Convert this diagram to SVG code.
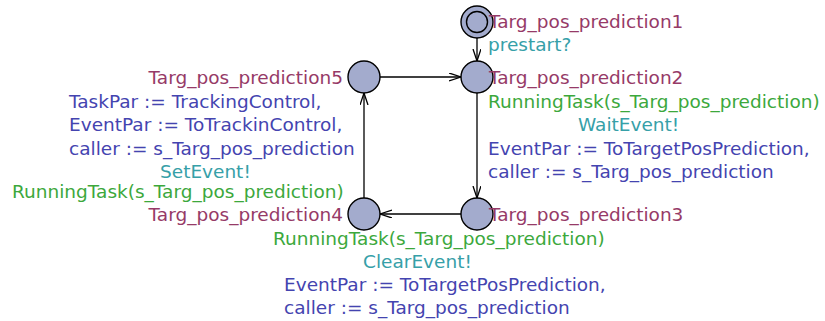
<svg xmlns="http://www.w3.org/2000/svg" width="825" height="321" viewBox="0 0 825 321">
<style>
text{font-family:"DejaVu Sans",sans-serif;font-size:18.5px}
.loc{fill:#963a67}
.syn{fill:#36a0a8}
.grd{fill:#3ca83c}
.asg{fill:#4444b0}
.node{fill:#a3abcd;stroke:#000;stroke-width:1.4}
.edge{stroke:#000;stroke-width:1.3;fill:none}
</style>
<defs>
<marker id="ah" markerWidth="14" markerHeight="10" refX="12" refY="4" orient="auto" markerUnits="userSpaceOnUse">
<path d="M0,0 L12,4 L0,8" fill="none" stroke="#000" stroke-width="1.3"/>
</marker>
</defs>
<rect width="825" height="321" fill="#fff"/>
<g id="connectors">
<line class="edge" x1="477" y1="38" x2="477" y2="61" marker-end="url(#ah)"/>
<line class="edge" x1="380" y1="77" x2="461" y2="77" marker-end="url(#ah)"/>
<line class="edge" x1="477" y1="93" x2="477" y2="198" marker-end="url(#ah)"/>
<line class="edge" x1="461" y1="214" x2="380" y2="214" marker-end="url(#ah)"/>
<line class="edge" x1="364" y1="198" x2="364" y2="93" marker-end="url(#ah)"/>
</g>
<g id="n1">
<circle class="node" cx="477" cy="22" r="16"/>
<circle class="node" cx="477" cy="22" r="10.5"/>
<text class="loc" x="489" y="28">Targ_pos_prediction1</text>
</g>
<g id="n2">
<circle class="node" cx="477" cy="77" r="16"/>
<text class="loc" x="489" y="84">Targ_pos_prediction2</text>
</g>
<g id="n3">
<circle class="node" cx="477" cy="214" r="16"/>
<text class="loc" x="489" y="221">Targ_pos_prediction3</text>
</g>
<g id="n4">
<circle class="node" cx="364" cy="214" r="16"/>
<text class="loc" x="343" y="221" text-anchor="end">Targ_pos_prediction4</text>
</g>
<g id="n5">
<circle class="node" cx="364" cy="77" r="16"/>
<text class="loc" x="343" y="84" text-anchor="end">Targ_pos_prediction5</text>
</g>
<g id="labels">
<text class="syn" x="488" y="51">prestart?</text>
<text class="grd" x="488" y="108">RunningTask(s_Targ_pos_prediction)</text>
<text class="syn" x="578" y="131">WaitEvent!</text>
<text class="asg" x="488" y="155">EventPar := ToTargetPosPrediction,</text>
<text class="asg" x="488" y="178">caller := s_Targ_pos_prediction</text>
<text class="asg" x="69" y="108">TaskPar := TrackingControl,</text>
<text class="asg" x="69" y="131">EventPar := ToTrackinControl,</text>
<text class="asg" x="69" y="155">caller := s_Targ_pos_prediction</text>
<text class="syn" x="160" y="178">SetEvent!</text>
<text class="grd" x="12" y="198">RunningTask(s_Targ_pos_prediction)</text>
<text class="grd" x="273" y="245">RunningTask(s_Targ_pos_prediction)</text>
<text class="syn" x="363" y="268">ClearEvent!</text>
<text class="asg" x="284" y="291">EventPar := ToTargetPosPrediction,</text>
<text class="asg" x="284" y="314">caller := s_Targ_pos_prediction</text>
</g>
</svg>
